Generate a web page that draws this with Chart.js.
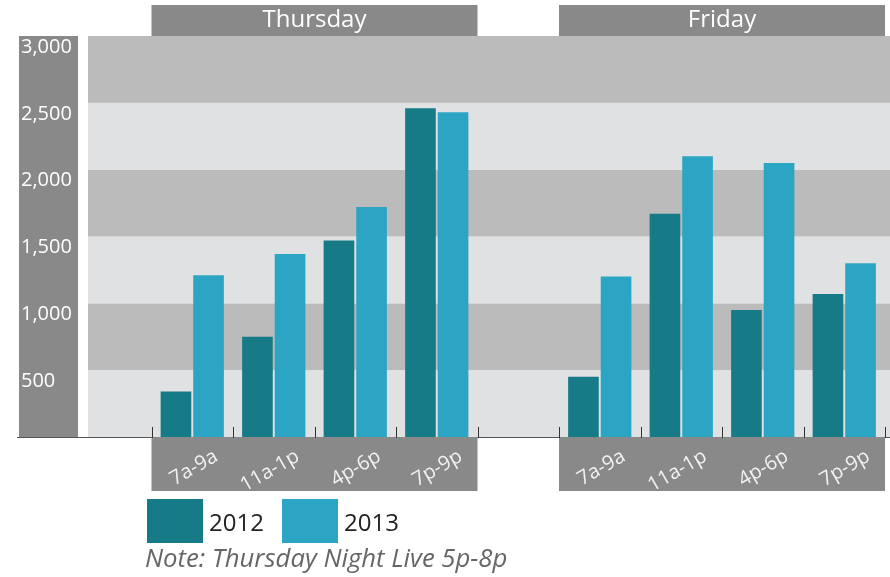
<!DOCTYPE html>
<html>
<head>
<meta charset="utf-8">
<script src="https://cdn.jsdelivr.net/npm/chart.js@4"></script>
<style>
  body { margin: 0; background: #fff; }
  #wrap { width: 890px; height: 577px; }
</style>
</head>
<body>
<div id="wrap"><canvas id="chart" width="890" height="577"></canvas></div>
<script>
// time slots, a blank slot in front of each day
const categories = ['', '7a-9a', '11a-1p', '4p-6p', '7p-9p', '', '7a-9a', '11a-1p', '4p-6p', '7p-9p'];
const days = ['Thursday', 'Friday'];
const dayStart = [1, 6]; // first slot index of each day
const sales2012 = [null, 340, 750, 1470, 2460, null, 450, 1670, 950, 1070];
const sales2013 = [null, 1210, 1370, 1720, 2430, null, 1200, 2100, 2050, 1300];
const yTicks = [500, 1000, 1500, 2000, 2500, 3000];
const seriesNames = ['2012', '2013'];
const note = 'Note: Thursday Night Live 5p-8p';

const colors = ['#177a87', '#2ca5c5'];
const panelGray = '#898989';
const font = '"Open Sans", "DejaVu Sans", sans-serif';

const decorPlugin = {
    id: 'decor',
    beforeDatasetsDraw(chart) {
        const ctx = chart.ctx;
        const y = chart.scales.y;
        ctx.save();
        // alternating bands
        for (let i = 0; i < yTicks.length; i++) {
            const lo = i === 0 ? 0 : yTicks[i - 1];
            const top = y.getPixelForValue(yTicks[i]);
            const bot = y.getPixelForValue(lo);
            ctx.fillStyle = i % 2 === 1 ? '#bbbbbb' : '#e0e1e3';
            ctx.fillRect(88, top, chart.width - 88, bot - top);
        }
        ctx.restore();
    },
    afterDraw(chart) {
        const ctx = chart.ctx;
        const x = chart.scales.x;
        const y = chart.scales.y;
        const base = y.getPixelForValue(0);
        const topPx = y.getPixelForValue(3000);
        const slot = x.getPixelForValue(1) - x.getPixelForValue(0);
        ctx.save();

        // y axis panel
        ctx.fillStyle = panelGray;
        ctx.fillRect(19, topPx, 59, base - topPx);
        ctx.fillStyle = '#ffffff';
        ctx.font = '20px ' + font;
        ctx.textAlign = 'left';
        ctx.textBaseline = 'middle';
        yTicks.forEach(v => {
            ctx.fillText(v.toLocaleString('en-US'), 21, y.getPixelForValue(v) + 11);
        });

        // base line
        ctx.strokeStyle = '#555';
        ctx.lineWidth = 1;
        ctx.beginPath();
        ctx.moveTo(17, base + 0.5);
        ctx.lineTo(chart.width, base + 0.5);
        ctx.stroke();

        days.forEach((day, d) => {
            const left = x.getPixelForValue(dayStart[d]) - slot / 2;
            const right = x.getPixelForValue(dayStart[d] + 3) + slot / 2;
            // header
            ctx.fillStyle = panelGray;
            ctx.fillRect(left, 5, right - left, topPx - 5);
            ctx.fillStyle = '#ffffff';
            ctx.font = '24px ' + font;
            ctx.textAlign = 'center';
            ctx.textBaseline = 'middle';
            ctx.fillText(day, (left + right) / 2, 20);
            // label panel
            ctx.fillStyle = panelGray;
            ctx.fillRect(left, base, right - left, 491 - base);
            // ticks
            ctx.strokeStyle = '#333';
            for (let k = 0; k <= 4; k++) {
                const tx = Math.round(left + k * slot) + 0.5;
                ctx.beginPath();
                ctx.moveTo(tx, base - 10);
                ctx.lineTo(tx, base + 1);
                ctx.stroke();
            }
            // rotated slot labels, anchored at their right end
            ctx.fillStyle = '#f2f2f2';
            ctx.font = '20px ' + font;
            ctx.textAlign = 'right';
            for (let k = 0; k < 4; k++) {
                const idx = dayStart[d] + k;
                ctx.save();
                ctx.translate(x.getPixelForValue(idx) + 24, 455);
                ctx.rotate(-30 * Math.PI / 180);
                ctx.fillText(categories[idx], 0, 0);
                ctx.restore();
            }
        });

        // legend
        ctx.textAlign = 'left';
        ctx.textBaseline = 'middle';
        ctx.font = '24px ' + font;
        const legX = [147, 282];
        seriesNames.forEach((name, i) => {
            ctx.fillStyle = colors[i];
            ctx.fillRect(legX[i], 499, 56, 44);
            ctx.fillStyle = '#222';
            ctx.fillText(name, legX[i] + 62, 524);
        });

        // note
        ctx.fillStyle = '#666';
        ctx.font = 'italic 25.7px ' + font;
        ctx.fillText(note, 145, 560);
        ctx.restore();
    }
};

new Chart(document.getElementById('chart'), {
    type: 'bar',
    data: {
        labels: categories,
        datasets: [
            { label: seriesNames[0], data: sales2012, backgroundColor: colors[0] },
            { label: seriesNames[1], data: sales2013, backgroundColor: colors[1] }
        ]
    },
    options: {
        responsive: false,
        animation: false,
        events: [],
        layout: { padding: { left: 70, right: 5, top: 36, bottom: 140 } },
        datasets: { bar: { categoryPercentage: 0.8, barPercentage: 0.94 } },
        plugins: { legend: { display: false }, tooltip: { enabled: false } },
        scales: {
            x: { display: false },
            y: { display: false, min: 0, max: 3000 }
        }
    },
    plugins: [decorPlugin]
});
</script>
</body>
</html>
